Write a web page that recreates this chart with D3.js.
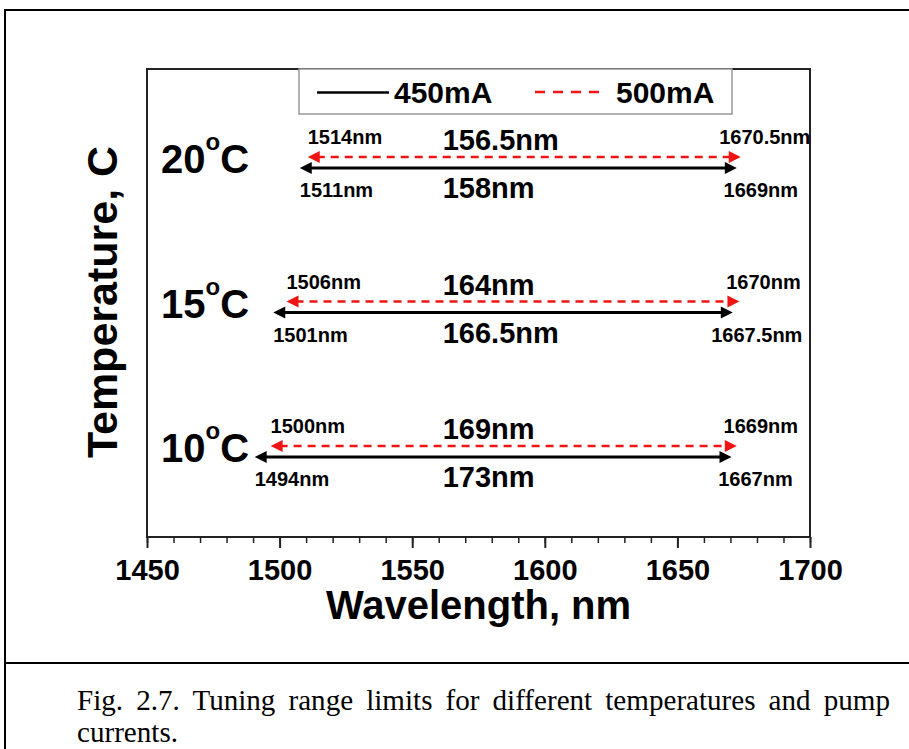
<!DOCTYPE html>
<html lang="en">
<head>
<meta charset="UTF-8">
<style>
    body{
        margin:0;
        background:#fff;
    }
    svg text{
        font-family:"Liberation Sans", Arial, sans-serif;
        font-weight:bold;
    }
    .caption{
        font-family:"Liberation Serif", "Times New Roman", serif !important;
        font-weight:normal !important;
    }
</style>
<script src="https://d3js.org/d3.v7.min.js"></script>
</head>
<body>
<svg id="chart" width="909" height="749"></svg>
<script>
    // temperatures (rows) and tuning range limits, nm
    var temps = [20, 15, 10];
    var start450 = [1511, 1501, 1494];
    var end450 = [1669, 1667.5, 1667];
    var start500 = [1514, 1506, 1500];
    var end500 = [1670.5, 1670, 1669];
    var span450 = ["158nm", "166.5nm", "173nm"];
    var span500 = ["156.5nm", "164nm", "169nm"];
    var xTicks = [1450, 1500, 1550, 1600, 1650, 1700];
    var series = ["450mA", "500mA"];

    var margin = {top: 69, left: 147, right: 99, bottom: 212},
        width = 909 - margin.left - margin.right,
        height = 749 - margin.top - margin.bottom;

    var svg = d3.select("#chart");

    // page frame + caption rule
    svg.append("rect")
        .attr("x", 5).attr("y", 10)
        .attr("width", 920).attr("height", 760)
        .attr("fill", "none").attr("stroke", "#000").attr("stroke-width", 2);
    svg.append("line")
        .attr("x1", 5).attr("x2", 909).attr("y1", 663).attr("y2", 663)
        .attr("stroke", "#000").attr("stroke-width", 2);

    // caption, narrow serif, first line justified
    var sx = 0.97;
    var cap = svg.append("g").attr("transform", "translate(77,0) scale(" + sx + ",1)");
    var line1 = cap.append("text").attr("class", "caption")
        .attr("x", 0).attr("y", 710)
        .attr("font-size", 30)
        .text("Fig. 2.7. Tuning range limits for different temperatures and pump");
    var natural = line1.node().getComputedTextLength();
    var nSpaces = line1.text().split(" ").length - 1;
    line1.attr("word-spacing", ((813 / sx) - natural) / nSpaces);
    cap.append("text").attr("class", "caption")
        .attr("x", 0).attr("y", 742)
        .attr("font-size", 30)
        .text("currents.");

    var g = svg.append("g")
        .attr("transform", "translate(" + margin.left + "," + margin.top + ")");

    var x = d3.scaleLinear().domain([1450, 1700]).range([0, width]);
    var y = d3.scaleLinear().domain([7.23, 23.43]).range([height, 0]);

    // minor ticks
    g.append("g")
        .attr("transform", "translate(0," + height + ")")
        .call(d3.axisBottom(x).tickValues(d3.range(1450, 1701, 10)).tickSize(6).tickFormat(""))
        .call(function(a) { a.select(".domain").remove(); })
        .selectAll("line").attr("stroke", "#222").attr("stroke-width", 1.5);

    // major ticks + labels
    var xAxis = g.append("g")
        .attr("transform", "translate(0," + height + ")")
        .call(d3.axisBottom(x).tickValues(xTicks).tickSize(11).tickPadding(11).tickFormat(d3.format("d")));
    xAxis.select(".domain").remove();
    xAxis.selectAll("line").attr("stroke", "#222").attr("stroke-width", 2);
    xAxis.selectAll("text")
        .attr("font-size", 29).attr("fill", "#000")
        .attr("font-family", "Liberation Sans, Arial, sans-serif")
        .attr("font-weight", "bold");

    // plot frame
    g.append("rect")
        .attr("width", width).attr("height", height)
        .attr("fill", "none").attr("stroke", "#222").attr("stroke-width", 2);

    // axis titles
    g.append("text")
        .attr("x", width / 2).attr("y", height + 82)
        .attr("text-anchor", "middle").attr("font-size", 40)
        .text("Wavelength, nm");
    g.append("text")
        .attr("transform", "translate(" + (-30) + "," + (height / 2 - 1) + ") rotate(-90)")
        .attr("text-anchor", "middle").attr("font-size", 43)
        .text("Temperature, C");

    // legend
    var leg = g.append("g");
    leg.append("rect")
        .attr("x", 152).attr("y", 0).attr("width", 433).attr("height", 45)
        .attr("fill", "#fff").attr("stroke", "#999").attr("stroke-width", 1.5);
    leg.append("line")
        .attr("x1", 170).attr("x2", 242).attr("y1", 23.5).attr("y2", 23.5)
        .attr("stroke", "#000").attr("stroke-width", 2.5);
    leg.append("text").attr("x", 247).attr("y", 34).attr("font-size", 30).text(series[0]);
    leg.append("line")
        .attr("x1", 388).attr("x2", 453).attr("y1", 23).attr("y2", 23)
        .attr("stroke", "#f01414").attr("stroke-width", 2.5).attr("stroke-dasharray", "10,8");
    leg.append("text").attr("x", 469).attr("y", 34).attr("font-size", 30).text(series[1]);

    var redOff = -11, head = 9, halfH = 6;

    function arrow(sel, x0, x1, yy, color, dash) {
        sel.append("line")
            .attr("x1", x0).attr("x2", x1).attr("y1", yy).attr("y2", yy)
            .attr("stroke", color).attr("stroke-width", dash ? 2.5 : 3)
            .attr("stroke-dasharray", dash ? "8,6" : null);
        sel.append("path")
            .attr("d", "M" + (x0 - head) + "," + yy + "L" + (x0 + 3) + "," + (yy - halfH) + "L" + (x0 + 3) + "," + (yy + halfH) + "Z")
            .attr("fill", color);
        sel.append("path")
            .attr("d", "M" + (x1 + head) + "," + yy + "L" + (x1 - 3) + "," + (yy - halfH) + "L" + (x1 - 3) + "," + (yy + halfH) + "Z")
            .attr("fill", color);
    }

    temps.forEach(function(t, i) {
        var yb = y(t), yr = yb + redOff;
        var row = g.append("g");

        arrow(row, x(start500[i]), x(end500[i]), yr, "#f01414", true);
        arrow(row, x(start450[i]), x(end450[i]), yb, "#000", false);

        // temperature label
        var tl = row.append("text")
            .attr("x", 14).attr("y", yb + 5).attr("font-size", 40);
        tl.append("tspan").text(t);
        tl.append("tspan").attr("font-size", 24).attr("dy", -23).text("o");
        tl.append("tspan").attr("dy", 23).text("C");

        // limit labels
        row.append("text").attr("x", x(start500[i]) - head).attr("y", yr - 13)
            .attr("font-size", 20).text(start500[i] + "nm");
        row.append("text").attr("x", x(start450[i]) - head).attr("y", yb + 29)
            .attr("font-size", 20).text(start450[i] + "nm");
        row.append("text").attr("x", x(end500[i]) + 33).attr("y", yr - 13)
            .attr("text-anchor", "middle").attr("font-size", 20).text(end500[i] + "nm");
        row.append("text").attr("x", x(end450[i]) + 33).attr("y", yb + 29)
            .attr("text-anchor", "middle").attr("font-size", 20).text(end450[i] + "nm");

        // span labels
        row.append("text").attr("x", x(1561.5)).attr("y", yr - 7)
            .attr("font-size", 29).text(span500[i]);
        row.append("text").attr("x", x(1561.5)).attr("y", yb + 30)
            .attr("font-size", 29).text(span450[i]);
    });
</script>
</body>
</html>
